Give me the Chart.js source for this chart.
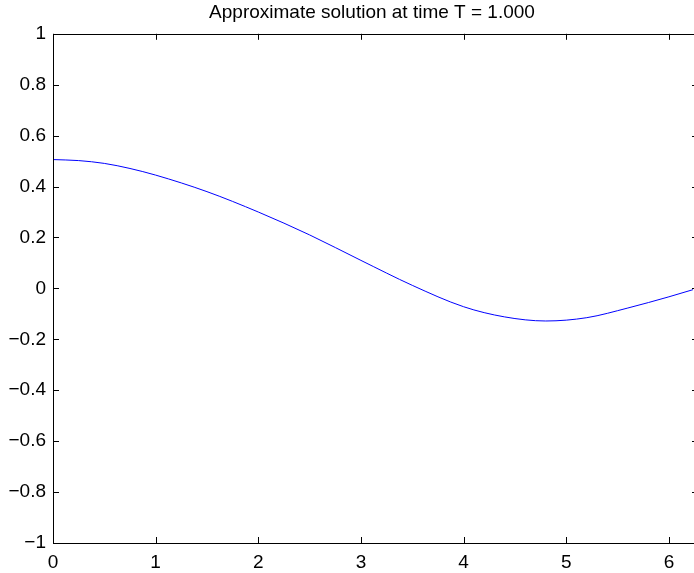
<!DOCTYPE html>
<html>
<head>
<meta charset="utf-8">
<script src="https://cdn.jsdelivr.net/npm/chart.js@4/dist/chart.umd.min.js"></script>
<style>
  html, body { margin: 0; padding: 0; background: #fff; overflow: hidden; }
  #wrap { width: 694px; height: 573px; overflow: hidden; }
</style>
</head>
<body>
<div id="wrap"><canvas id="solution" width="744" height="573"></canvas></div>
<script>
// solution u(x) at the final time
var xs = [0, 0.25, 0.5, 0.75, 1, 1.5, 2, 2.5, 3, 3.5, 4, 4.4, 4.8, 5.2, 5.6, 6, 6.234];
var us = [0.506, 0.502, 0.491, 0.471, 0.445, 0.380, 0.300, 0.210, 0.110, 0.012, -0.072, -0.112, -0.128, -0.115, -0.077, -0.033, -0.005];

var xTicks = [0, 1, 2, 3, 4, 5, 6];
var yTicks = [-1, -0.8, -0.6, -0.4, -0.2, 0, 0.2, 0.4, 0.6, 0.8, 1];
var xLimits = [0, 6.2832];
var yLimits = [-1, 1];
var titleText = "Approximate solution at time T = 1.000";

var fontFamily = "'Liberation Sans', Arial, Helvetica, sans-serif";

function fmt(v) {
  var s = String(Math.round(v * 10) / 10);
  return s.charAt(0) === "-" ? "\u2212" + s.slice(1) : s;
}

// box around the axes plus inward tick marks on all four sides
var boxTicks = {
  id: "boxTicks",
  afterDraw: function(chart) {
    var ctx = chart.ctx;
    var a = chart.chartArea;
    var sx = chart.scales.x;
    var sy = chart.scales.y;
    var len = 6;
    ctx.save();
    ctx.strokeStyle = "#000";
    ctx.lineWidth = 1;
    ctx.strokeRect(Math.round(a.left) + 0.5, Math.round(a.top) + 0.5,
                   Math.round(a.right - a.left), Math.round(a.bottom - a.top));
    ctx.beginPath();
    sx.ticks.forEach(function(t) {
      var px = Math.round(sx.getPixelForValue(t.value)) + 0.5;
      ctx.moveTo(px, a.bottom); ctx.lineTo(px, a.bottom - len);
      ctx.moveTo(px, a.top); ctx.lineTo(px, a.top + len);
    });
    sy.ticks.forEach(function(t) {
      var py = Math.round(sy.getPixelForValue(t.value)) + 0.5;
      ctx.moveTo(a.left, py); ctx.lineTo(a.left + len, py);
      ctx.moveTo(a.right, py); ctx.lineTo(a.right - len, py);
    });
    ctx.stroke();
    ctx.restore();
  }
};

var points = xs.map(function(x, i) { return { x: x, y: us[i] }; });

new Chart(document.getElementById("solution").getContext("2d"), {
  type: "line",
  data: {
    datasets: [{
      data: points,
      borderColor: "#0000ff",
      borderWidth: 1,
      pointRadius: 0,
      fill: false,
      cubicInterpolationMode: "monotone"
    }]
  },
  options: {
    responsive: false,
    animation: false,
    layout: { padding: 0 },
    plugins: {
      legend: { display: false },
      tooltip: { enabled: false },
      title: {
        display: true,
        text: titleText,
        color: "#000",
        font: { family: fontFamily, size: 19, weight: "normal" },
        padding: { top: 1, bottom: 10 }
      }
    },
    scales: {
      x: {
        type: "linear",
        min: xLimits[0],
        max: xLimits[1],
        afterBuildTicks: function(s) { s.ticks = xTicks.map(function(v) { return { value: v }; }); },
        afterFit: function(s) { s.height = 30; },
        grid: { display: false, drawTicks: false },
        border: { display: false },
        ticks: {
          color: "#000",
          padding: 8,
          maxRotation: 0,
          font: { family: fontFamily, size: 19 },
          callback: function(v) { return fmt(v); }
        }
      },
      y: {
        type: "linear",
        min: yLimits[0],
        max: yLimits[1],
        afterBuildTicks: function(s) { s.ticks = yTicks.map(function(v) { return { value: v }; }); },
        afterFit: function(s) { s.width = 53; },
        grid: { display: false, drawTicks: false },
        border: { display: false },
        ticks: {
          color: "#000",
          padding: 7,
          font: { family: fontFamily, size: 19 },
          callback: function(v) { return fmt(v); }
        }
      },
      // empty right-hand margin so the axes box ends past the visible edge
      yRight: {
        type: "linear",
        position: "right",
        min: yLimits[0],
        max: yLimits[1],
        afterFit: function(s) { s.width = 46; },
        grid: { display: false, drawTicks: false },
        border: { display: false },
        ticks: { display: false }
      }
    }
  },
  plugins: [boxTicks]
});
</script>
</body>
</html>
